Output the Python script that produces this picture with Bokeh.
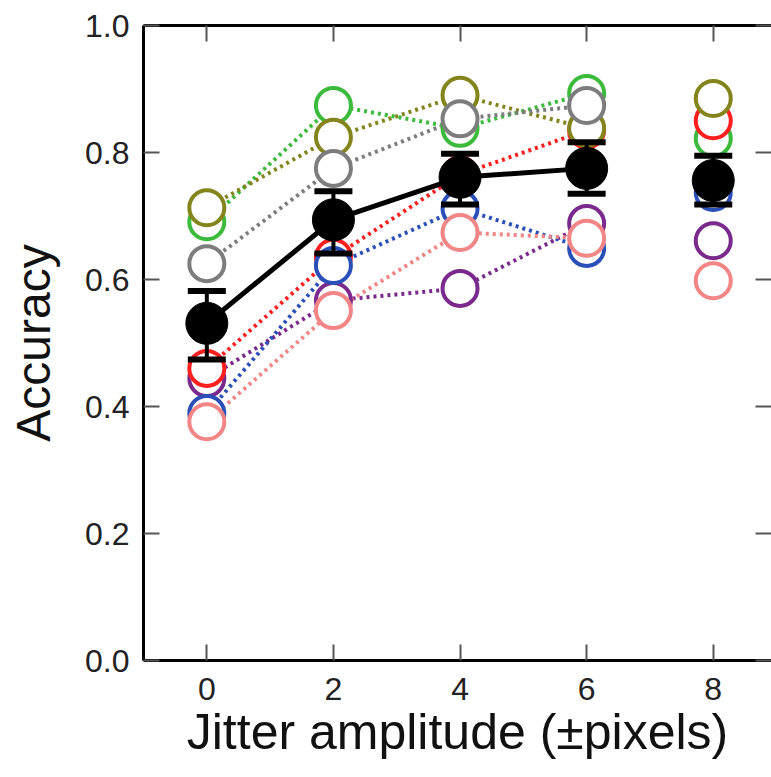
import math
from bokeh.plotting import figure
from bokeh.models import LinearAxis, FixedTicker
from bokeh.embed import file_html
from bokeh.resources import INLINE

nan = float("nan")

# Jitter amplitude levels (±pixels)
jitter = [0, 2, 4, 6, 8]

# Per-subject accuracy
olive = [0.713, 0.824, 0.890, 0.838, 0.885]
green = [0.691, 0.874, 0.838, 0.893, 0.822]
gray = [0.625, 0.775, 0.853, 0.874, nan]
red = [0.460, 0.635, 0.765, 0.835, 0.850]
purple = [0.444, 0.567, 0.586, 0.688, 0.661]
blue = [0.389, 0.622, 0.712, 0.649, 0.737]
pink = [0.376, 0.551, 0.674, 0.665, 0.598]

# Group mean and error bars
mean_acc = [0.531, 0.694, 0.761, 0.775, 0.756]
err_upper = [0.582, 0.739, 0.798, 0.816, 0.795]
err_lower = [0.474, 0.641, 0.718, 0.735, 0.718]

y_ticks = [0.0, 0.2, 0.4, 0.6, 0.8, 1.0]
y_tick_labels = ["0.0", "0.2", "0.4", "0.6", "0.8", "1.0"]
x_ticks = [0, 2, 4, 6, 8]

subjects = [
    (purple, "#7a2a8c"),
    (green, "#3cba3c"),
    (red, "#ff1f1f"),
    (blue, "#2b4fb8"),
    (olive, "#84841c"),
    (gray, "#7d7d7d"),
    (pink, "#f28585"),
]

FONT = "Liberation Sans"

p = figure(width=771, height=777, x_range=(-1, 8.92), y_range=(0, 1),
           output_backend="svg", toolbar_location=None,
           min_border_left=143, min_border_right=0, min_border_top=25,
           min_border_bottom=117)
p.background_fill_color = "white"
p.border_fill_color = "white"
p.outline_line_color = None
p.grid.visible = False

def style_axis(ax, labels=True):
    ax.axis_line_color = "black"
    ax.axis_line_width = 3
    ax.major_tick_in = 16
    ax.major_tick_out = 0
    ax.major_tick_line_color = "#555555"
    ax.major_tick_line_width = 2
    ax.minor_tick_line_color = None
    ax.major_label_text_font = FONT
    ax.major_label_text_color = "#222222"
    ax.axis_label_text_font = FONT
    ax.axis_label_text_font_style = "normal"
    ax.axis_label_text_color = "#111111"
    if not labels:
        ax.major_label_text_font_size = "0px"
        ax.major_label_standoff = 0

xa = p.xaxis[0]
style_axis(xa)
xa.ticker = FixedTicker(ticks=x_ticks)
xa.major_label_text_font_size = "32px"
xa.major_label_standoff = 17
xa.axis_label = "Jitter amplitude (±pixels)"
xa.axis_label_text_font_size = "50px"
xa.axis_label_standoff = 1

ya = p.yaxis[0]
style_axis(ya)
ya.ticker = FixedTicker(ticks=y_ticks)
ya.major_label_overrides = {t: s for t, s in zip(y_ticks, y_tick_labels)}
ya.major_label_text_font_size = "32px"
ya.major_label_standoff = 14
ya.axis_label = "Accuracy"
ya.axis_label_text_font_size = "48px"
ya.axis_label_standoff = 22

top = LinearAxis(ticker=FixedTicker(ticks=x_ticks))
style_axis(top, labels=False)
top.major_label_overrides = {t: "" for t in x_ticks}
p.add_layout(top, "above")

right = LinearAxis(ticker=FixedTicker(ticks=y_ticks))
style_axis(right, labels=False)
right.axis_line_color = None
right.major_label_overrides = {t: "" for t in y_ticks}
p.add_layout(right, "right")

# dotted subject lines (0..6 only)
for vals, col in subjects:
    p.line(jitter[:4], vals[:4], line_color=col, line_width=4, line_dash="3 4")

# mean line
p.line(jitter[:4], mean_acc[:4], line_color="black", line_width=5)

# subject markers
for vals, col in subjects:
    xs = [x for x, v in zip(jitter, vals) if not math.isnan(v)]
    ys = [v for v in vals if not math.isnan(v)]
    p.scatter(xs, ys, size=35, marker="circle", fill_color="white",
              line_color=col, line_width=4)

# error bars
p.segment(x0=jitter, y0=err_lower, x1=jitter, y1=err_upper,
          line_color="black", line_width=4)
p.scatter(jitter, err_upper, marker="dash", size=38, line_color="black", line_width=6)
p.scatter(jitter, err_lower, marker="dash", size=38, line_color="black", line_width=6)

# mean markers
p.scatter(jitter, mean_acc, marker="circle", size=42, fill_color="black",
          line_color="black", line_width=1)

open("out.html", "w").write(file_html(p, INLINE))
